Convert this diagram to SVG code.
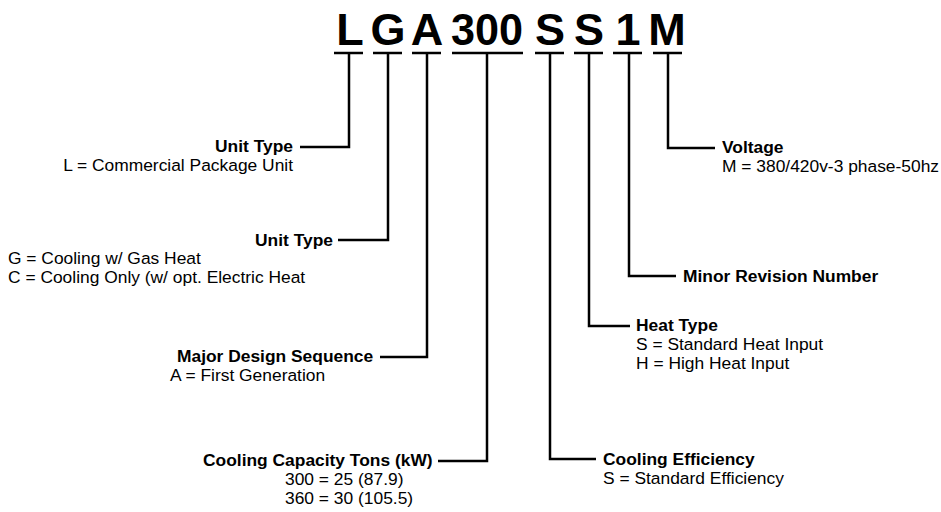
<svg xmlns="http://www.w3.org/2000/svg" width="941" height="512" viewBox="0 0 941 512">
<style>
.code{font-family:"Liberation Sans",Arial,sans-serif;font-weight:bold;font-size:45px;fill:#000;text-anchor:middle}
.t{font-family:"Liberation Sans",Arial,sans-serif;font-size:17.4px;fill:#000}
.b{font-weight:bold}
.e{text-anchor:end}
.bar{stroke:#000;stroke-width:2.5;fill:none}
.ln{stroke:#000;stroke-width:2.5;fill:none}
</style>
<rect width="941" height="512" fill="#fff"/>
<g id="code">
<text class="code" x="350" y="45">L</text>
<text class="code" x="388" y="45">G</text>
<text class="code" x="427" y="45">A</text>
<text class="code" x="487" y="45" textLength="72" lengthAdjust="spacingAndGlyphs">300</text>
<text class="code" x="550" y="45">S</text>
<text class="code" x="589" y="45">S</text>
<text class="code" x="628" y="45">1</text>
<text class="code" x="667" y="45">M</text>
</g>
<g id="bars">
<line class="bar" x1="334" y1="53" x2="363" y2="53"/>
<line class="bar" x1="373" y1="53" x2="402" y2="53"/>
<line class="bar" x1="412" y1="53" x2="441" y2="53"/>
<line class="bar" x1="452" y1="53" x2="523" y2="53"/>
<line class="bar" x1="535" y1="53" x2="564" y2="53"/>
<line class="bar" x1="574" y1="53" x2="603" y2="53"/>
<line class="bar" x1="613" y1="53" x2="642" y2="53"/>
<line class="bar" x1="653" y1="53" x2="682" y2="53"/>
</g>
<g id="connectors">
<path class="ln" d="M349,53 V147 H300"/>
<path class="ln" d="M388,53 V240 H338"/>
<path class="ln" d="M427,53 V357 H380"/>
<path class="ln" d="M487,53 V461 H438"/>
<path class="ln" d="M550,53 V459 H596"/>
<path class="ln" d="M589,53 V326 H630"/>
<path class="ln" d="M629,53 V276 H676"/>
<path class="ln" d="M668,53 V148 H715"/>
</g>
<g id="unit-type-l">
<text class="t b e" x="293" y="152">Unit Type</text>
<text class="t e" x="293" y="171">L = Commercial Package Unit</text>
</g>
<g id="unit-type-g">
<text class="t b e" x="333" y="246">Unit Type</text>
<text class="t" x="8" y="264">G = Cooling w/ Gas Heat</text>
<text class="t" x="8" y="283">C = Cooling Only (w/ opt. Electric Heat</text>
</g>
<g id="major-design">
<text class="t b" x="177" y="362">Major Design Sequence</text>
<text class="t" x="170" y="381">A = First Generation</text>
</g>
<g id="cooling-capacity">
<text class="t b" x="203" y="466">Cooling Capacity Tons (kW)</text>
<text class="t" x="285" y="485">300 = 25 (87.9)</text>
<text class="t" x="285" y="504">360 = 30 (105.5)</text>
</g>
<g id="cooling-efficiency">
<text class="t b" x="603" y="465">Cooling Efficiency</text>
<text class="t" x="603" y="484">S = Standard Efficiency</text>
</g>
<g id="heat-type">
<text class="t b" x="636" y="331">Heat Type</text>
<text class="t" x="636" y="350">S = Standard Heat Input</text>
<text class="t" x="636" y="369">H = High Heat Input</text>
</g>
<g id="minor-revision">
<text class="t b" x="683" y="282">Minor Revision Number</text>
</g>
<g id="voltage">
<text class="t b" x="722" y="153">Voltage</text>
<text class="t" x="722" y="172">M = 380/420v-3 phase-50hz</text>
</g>
</svg>
